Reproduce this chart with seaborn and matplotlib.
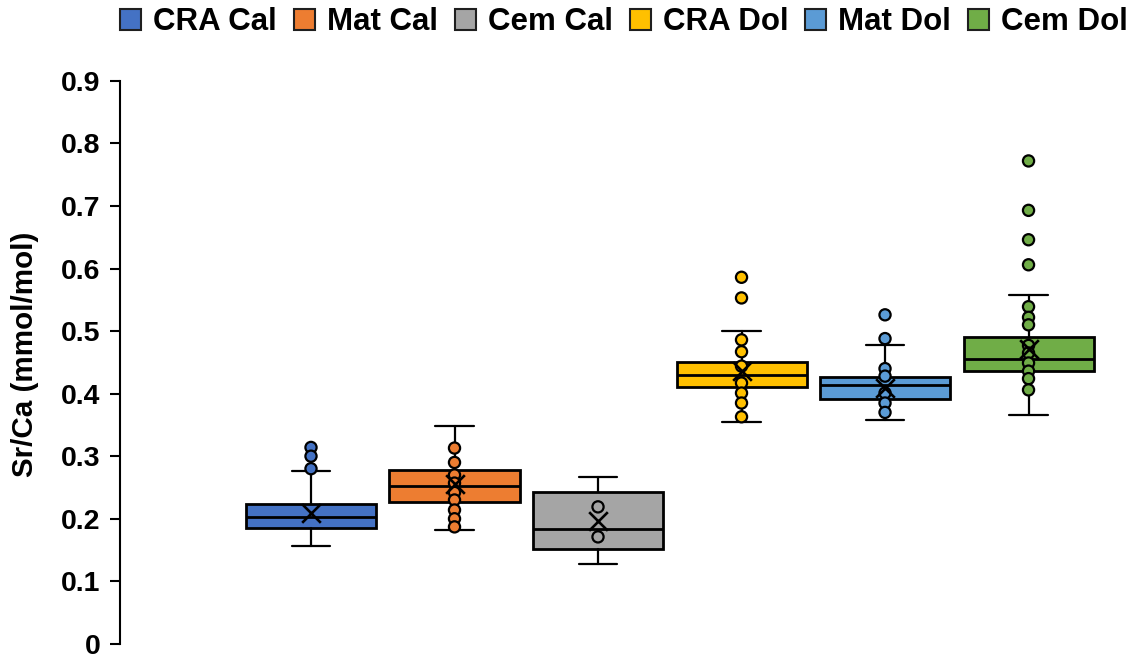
import matplotlib
matplotlib.use("Agg")
import matplotlib.pyplot as plt
from matplotlib.patches import Patch
import numpy as np
import pandas as pd
import seaborn as sns

# Series names and colours
series = ["CRA Cal", "Mat Cal", "Cem Cal", "CRA Dol", "Mat Dol", "Cem Dol"]
colors = ["#4472C4", "#ED7D31", "#A5A5A5", "#FFC000", "#5B9BD5", "#70AD47"]

# Box statistics (Sr/Ca, mmol/mol)
whisker_low = [0.157, 0.182, 0.128, 0.355, 0.358, 0.366]
q1 = [0.185, 0.226, 0.151, 0.410, 0.392, 0.436]
median = [0.202, 0.253, 0.184, 0.430, 0.414, 0.456]
q3 = [0.223, 0.278, 0.243, 0.450, 0.426, 0.490]
whisker_high = [0.277, 0.349, 0.267, 0.500, 0.478, 0.558]
mean = [0.209, 0.256, 0.196, 0.436, 0.409, 0.472]

# Individual points shown for each series
pts_cra_cal = [0.314, 0.300, 0.280]
pts_mat_cal = [0.313, 0.290, 0.270, 0.257, 0.242, 0.230, 0.214, 0.200, 0.187]
pts_cem_cal = [0.219, 0.171]
pts_cra_dol = [0.586, 0.553, 0.486, 0.467, 0.444, 0.417, 0.401, 0.385, 0.363]
pts_mat_dol = [0.526, 0.488, 0.440, 0.428, 0.401, 0.385, 0.370]
pts_cem_dol = [0.772, 0.693, 0.646, 0.606, 0.539, 0.522, 0.510, 0.477,
               0.465, 0.449, 0.436, 0.424, 0.406]
points = [pts_cra_cal, pts_mat_cal, pts_cem_cal, pts_cra_dol, pts_mat_dol, pts_cem_dol]

yticks = [0, 0.1, 0.2, 0.3, 0.4, 0.5, 0.6, 0.7, 0.8, 0.9]
ytick_labels = ["0", "0.1", "0.2", "0.3", "0.4", "0.5", "0.6", "0.7", "0.8", "0.9"]

sns.set_theme(style="white")
plt.rcParams["font.family"] = ["Liberation Sans", "DejaVu Sans"]
plt.rcParams["font.weight"] = "bold"
plt.rcParams["text.color"] = "black"
plt.rcParams["axes.labelcolor"] = "black"
plt.rcParams["ytick.color"] = "black"

fig = plt.figure(figsize=(11.32, 6.58), dpi=100)
ax = fig.add_axes([0.106, 0.0215, 0.894, 0.8556])

pos = np.arange(len(series))
stats = []
for i in range(len(series)):
    stats.append(dict(whislo=whisker_low[i], q1=q1[i], med=median[i],
                      q3=q3[i], whishi=whisker_high[i], fliers=[]))

bp = ax.bxp(stats, positions=pos, widths=0.906, patch_artist=True,
            showfliers=False, capwidths=0.27,
            boxprops=dict(edgecolor="black", linewidth=2.0),
            medianprops=dict(color="black", linewidth=2.0),
            whiskerprops=dict(color="black", linewidth=1.6),
            capprops=dict(color="black", linewidth=1.6))
for patch, c in zip(bp["boxes"], colors):
    patch.set_facecolor(c)

# Points and mean markers
df = pd.DataFrame({
    "pos": np.concatenate([[p] * len(v) for p, v in zip(pos, points)]),
    "value": np.concatenate(points),
    "series": np.concatenate([[s] * len(v) for s, v in zip(series, points)]),
})
sns.scatterplot(data=df, x="pos", y="value", hue="series", hue_order=series,
                palette=colors, s=65, edgecolor="black", linewidth=1.6,
                legend=False, ax=ax, zorder=4)
df_mean = pd.DataFrame({"pos": pos, "value": mean})
sns.scatterplot(data=df_mean, x="pos", y="value", marker="x", color="black",
                s=180, linewidth=1.9, legend=False, ax=ax, zorder=5)

ax.set_xlim(-1.331, 5.721)
ax.set_ylim(0, 0.9)
ax.set_yticks(yticks)
ax.set_yticklabels(ytick_labels, fontsize=20.5, fontweight="bold")
ax.set_xticks([])
ax.set_xlabel("")
ax.set_ylabel("Sr/Ca (mmol/mol)", fontsize=21.3, fontweight="bold")
ax.yaxis.set_label_coords(-0.080, 0.515)
for side in ["top", "right", "bottom"]:
    ax.spines[side].set_visible(False)
ax.spines["left"].set_color("black")
ax.spines["left"].set_linewidth(1.5)
ax.tick_params(axis="y", which="major", direction="out", length=7, width=1.5,
               color="black", labelcolor="black", left=True, pad=7)

handles = [Patch(facecolor=c, edgecolor="#1f1f1f", linewidth=1.5) for c in colors]
fig.legend(handles, series, loc="center left", bbox_to_anchor=(0.106, 0.966), ncol=6,
           frameon=False, prop={"weight": "bold", "size": 22.5},
           handlelength=0.67, handleheight=0.67, handletextpad=0.38,
           columnspacing=0.55, borderaxespad=0, borderpad=0)

fig.savefig("out.png", dpi=100)
